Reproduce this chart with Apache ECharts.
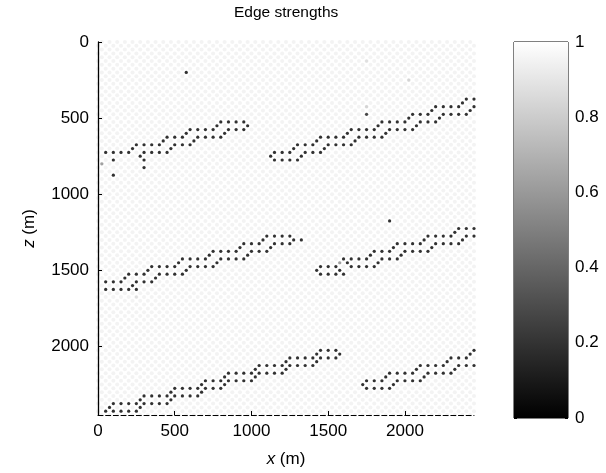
<!DOCTYPE html>
<html>
<head>
<meta charset="utf-8">
<style>
html, body { margin: 0; padding: 0; background: #fff; }
#chart { width: 606px; height: 473px; }
</style>
<script src="https://cdn.jsdelivr.net/npm/echarts@6/dist/echarts.min.js"></script>
</head>
<body>
<div id="chart"></div>
<script>
var xTicks = [0, 500, 1000, 1500, 2000];
var zTicks = [0, 500, 1000, 1500, 2000];
var colorTicks = [0, 0.2, 0.4, 0.6, 0.8, 1];
var xMax = 2450, zMax = 2450;
var backgroundValue = 0.94;   // strength of the plain lattice nodes

// edge nodes (strength 0), one row each: [z, x, x, ...]
var bandA = [
    [525, 800, 850, 900, 950],
    [550, 775, 975],
    [575, 600, 650, 700, 750, 850, 900, 950],
    [600, 575, 825],
    [625, 450, 500, 550, 650, 700, 750, 800],
    [650, 425, 625],
    [675, 250, 300, 350, 400, 500, 550, 600],
    [700, 225, 475],
    [725, 50, 100, 150, 200, 300, 350, 400, 450],
    [750, 275],
    [775, 100, 300],
    [825, 300],
    [875, 100]
];
var bandB = [
    [375, 2400, 2450],
    [400, 2375],
    [425, 2200, 2250, 2300, 2350, 2450],
    [450, 2175, 2425],
    [475, 2050, 2100, 2150, 2250, 2300, 2350, 2400],
    [500, 2025, 2225],
    [525, 1850, 1900, 1950, 2000, 2100, 2150, 2200],
    [550, 1825, 2075],
    [575, 1650, 1700, 1750, 1800, 1900, 1950, 2000, 2050],
    [600, 1625, 1875],
    [625, 1450, 1500, 1550, 1600, 1700, 1750, 1800, 1850],
    [650, 1425, 1675],
    [675, 1300, 1350, 1400, 1500, 1550, 1600, 1650],
    [700, 1275, 1475],
    [725, 1150, 1200, 1250, 1350, 1400, 1450],
    [750, 1125, 1325],
    [775, 1150, 1200, 1250, 1300]
];
var bandC = [
    [1275, 1100, 1150, 1200, 1250],
    [1300, 1075, 1275, 1325],
    [1325, 950, 1000, 1050, 1150, 1200, 1250],
    [1350, 925, 1125],
    [1375, 750, 800, 850, 900, 1000, 1050, 1100],
    [1400, 725, 975],
    [1425, 550, 600, 650, 700, 800, 850, 900, 950],
    [1450, 525, 775],
    [1475, 350, 400, 450, 500, 600, 650, 700, 750],
    [1500, 325, 575],
    [1525, 200, 250, 300, 400, 450, 500, 550],
    [1550, 175, 375],
    [1575, 50, 100, 150, 250, 300, 350],
    [1600, 225],
    [1625, 50, 100, 150, 200, 250]
];
var bandD = [
    [1175, 1900],
    [1225, 2350, 2400, 2450],
    [1250, 2325],
    [1275, 2150, 2200, 2250, 2300, 2400, 2450],
    [1300, 2125, 2375],
    [1325, 1950, 2000, 2050, 2100, 2200, 2250, 2300, 2350],
    [1350, 1925, 2175],
    [1375, 1800, 1850, 1900, 2000, 2050, 2100, 2150],
    [1400, 1775, 1975],
    [1425, 1600, 1650, 1700, 1750, 1850, 1900, 1950],
    [1450, 1625, 1825],
    [1475, 1450, 1500, 1550, 1650, 1700, 1750, 1800],
    [1500, 1425, 1575],
    [1525, 1450, 1500, 1550, 1600]
];
var bandE = [
    [2025, 1450, 1500, 1550],
    [2050, 1425, 1575],
    [2075, 1250, 1300, 1350, 1400, 1450, 1500, 1550],
    [2100, 1225, 1425],
    [2125, 1050, 1100, 1150, 1200, 1250, 1300, 1350, 1400],
    [2150, 1025, 1225],
    [2175, 850, 900, 950, 1000, 1050, 1100, 1150, 1200],
    [2200, 825, 1025],
    [2225, 700, 750, 800, 850, 900, 950, 1000],
    [2250, 675, 825],
    [2275, 500, 550, 600, 650, 700, 750, 800],
    [2300, 475, 675],
    [2325, 300, 350, 400, 450, 500, 550, 600, 650],
    [2350, 275, 475],
    [2375, 100, 150, 200, 250, 300, 350, 400, 450],
    [2400, 75, 275],
    [2425, 50, 100, 150, 200, 250]
];
var bandF = [
    [2025, 2450],
    [2050, 2425],
    [2075, 2300, 2350, 2400],
    [2100, 2275],
    [2125, 2100, 2150, 2200, 2250, 2350, 2400, 2450],
    [2150, 2075, 2325],
    [2175, 1900, 1950, 2000, 2050, 2150, 2200, 2250, 2300],
    [2200, 1875, 2125],
    [2225, 1750, 1800, 1850, 1950, 2000, 2050, 2100],
    [2250, 1725, 1925],
    [2275, 1750, 1800, 1850, 1900]
];
var strayDots = [[575, 200, 0], [1750, 475, 0.1]];
var grayDots = [
    [25, 800, 0.55], [1750, 125, 0.85], [2025, 250, 0.8],
    [1750, 425, 0.8], [1575, 1450, 0.55], [250, 1675, 0.85]
];

// plain lattice: nodes every 50 m, odd rows shifted by 25 m
var lattice = [];
for (var z = 0; z <= zMax; z += 25) {
    var x0 = (z / 25) % 2 === 0 ? 25 : 0;
    for (var x = x0; x <= xMax; x += 50) {
        lattice.push([x, z, backgroundValue]);
    }
}

var edges = [];
[bandA, bandB, bandC, bandD, bandE, bandF].forEach(function (band) {
    band.forEach(function (row) {
        for (var i = 1; i < row.length; i++) edges.push([row[i], row[0], 0]);
    });
});
edges = grayDots.concat(strayDots, edges);

var font = 'Liberation Sans, Arial, Helvetica, sans-serif';
var plain = function (v) { return String(v); };
var myChart = echarts.init(document.getElementById('chart'));

var option = {
    animation: false,
    title: {
        text: 'Edge strengths',
        left: 234,
        top: 5,
        padding: 0,
        textStyle: { color: '#000', fontSize: 15.5, fontWeight: 'normal', fontFamily: font }
    },
    visualMap: {
        show: false,
        type: 'continuous',
        min: 0,
        max: 1,
        dimension: 2,
        seriesIndex: [0, 1],
        inRange: { color: ['#000000', '#ffffff'] }
    },
    grid: [
        { left: 98, top: 42, width: 376, height: 376 },
        { left: 514, top: 42, width: 54, height: 376, show: true,
          borderColor: '#000', borderWidth: 1, backgroundColor: 'transparent' }
    ],
    xAxis: [
        {
            type: 'value', gridIndex: 0, min: 0, max: xMax, z: 5,
            name: '{i|x} (m)', nameLocation: 'middle', nameGap: 36,
            nameTextStyle: {
                color: '#000', fontSize: 17, fontFamily: font,
                rich: { i: { fontStyle: 'italic', fontSize: 17, fontFamily: font, color: '#000' } }
            },
            axisLine: { onZero: false, lineStyle: { color: '#000', width: 1, type: [5, 2.67] } },
            axisTick: { inside: true, length: 4, customValues: xTicks, lineStyle: { color: '#000' } },
            axisLabel: { customValues: xTicks, formatter: plain, color: '#000', fontSize: 17, fontFamily: font, margin: 8 },
            splitLine: { show: false }
        },
        { type: 'category', gridIndex: 1, data: ['cb'], show: false }
    ],
    yAxis: [
        {
            type: 'value', gridIndex: 0, min: 0, max: zMax, inverse: true, z: 5,
            name: '{i|z} (m)', nameLocation: 'middle', nameGap: 60, nameRotate: 90,
            nameTextStyle: {
                color: '#000', fontSize: 17, fontFamily: font,
                rich: { i: { fontStyle: 'italic', fontSize: 17, fontFamily: font, color: '#000' } }
            },
            axisLine: { show: true, onZero: false, lineStyle: { color: '#000', width: 1.3 } },
            axisTick: { show: true, inside: true, length: 4, customValues: zTicks, lineStyle: { color: '#000' } },
            axisLabel: { customValues: zTicks, formatter: plain, color: '#000', fontSize: 17, fontFamily: font, margin: 9 },
            splitLine: { show: false }
        },
        {
            type: 'value', gridIndex: 1, min: 0, max: 1, interval: 0.2, position: 'right',
            axisLine: { show: false },
            axisTick: { show: true, inside: true, length: 3, lineStyle: { color: '#000' } },
            axisLabel: { color: '#000', fontSize: 17, fontFamily: font, margin: 7 },
            splitLine: { show: false }
        },
        {
            type: 'value', gridIndex: 1, min: 0, max: 1, interval: 0.2, position: 'left',
            axisLine: { show: false },
            axisTick: { show: true, inside: true, length: 3, lineStyle: { color: '#000' } },
            axisLabel: { show: false },
            splitLine: { show: false }
        }
    ],
    series: [
        {
            name: 'lattice', type: 'scatter', xAxisIndex: 0, yAxisIndex: 0,
            data: lattice, symbol: 'circle', symbolSize: 4, clip: false, silent: true
        },
        {
            name: 'edges', type: 'scatter', xAxisIndex: 0, yAxisIndex: 0,
            data: edges, symbol: 'circle', symbolSize: 3.2, clip: false, silent: true, z: 3
        },
        {
            name: 'colorbar', type: 'bar', xAxisIndex: 1, yAxisIndex: 1,
            data: [colorTicks[colorTicks.length - 1]], barWidth: '100%', silent: true,
            itemStyle: {
                color: {
                    type: 'linear', x: 0, y: 0, x2: 0, y2: 1,
                    colorStops: [{ offset: 0, color: '#ffffff' }, { offset: 1, color: '#000000' }]
                }
            }
        }
    ]
};
myChart.setOption(option);
</script>
</body>
</html>
